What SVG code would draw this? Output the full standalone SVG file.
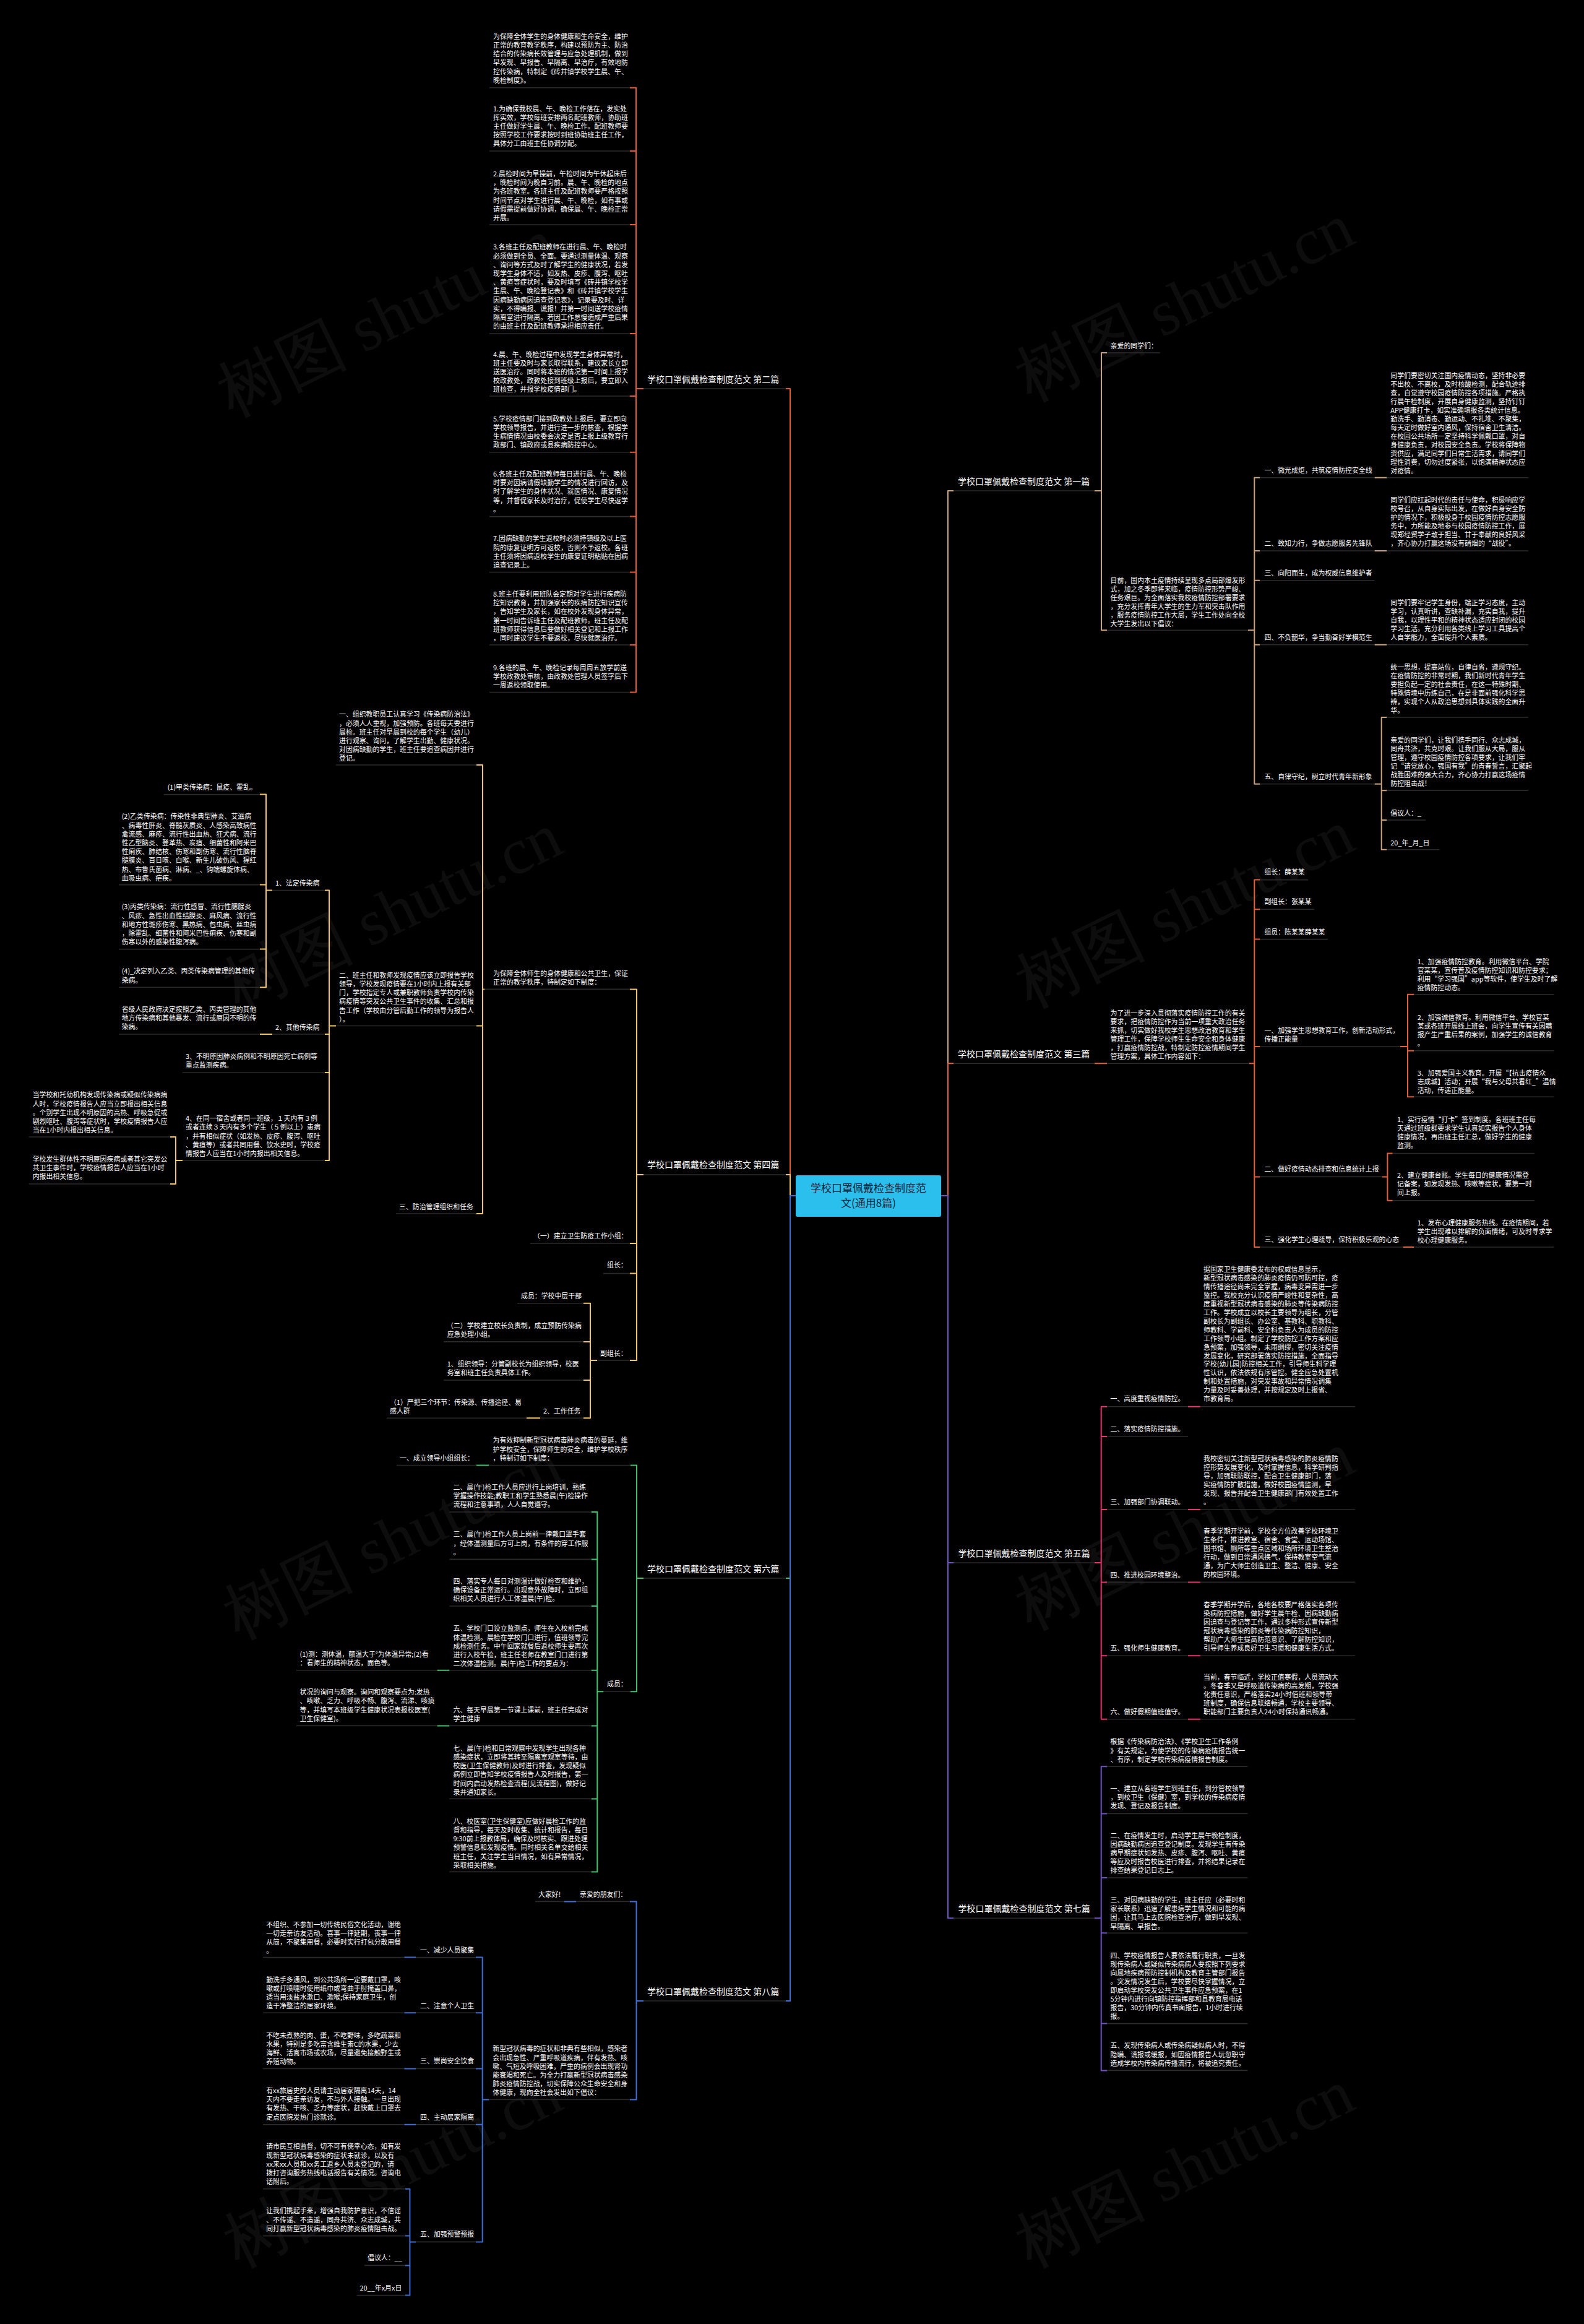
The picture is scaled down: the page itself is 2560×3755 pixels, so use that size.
<svg xmlns="http://www.w3.org/2000/svg" width="2560" height="3755" viewBox="0 0 2560 3755">
<style>
.t{font-family:"Noto Sans CJK SC","Noto Sans",sans-serif;font-size:10.9px;fill:#fff}
.h{font-size:14px}
.u{stroke:#2b2b2b;stroke-width:1.6}
.k{fill:none;stroke-width:2;stroke-linejoin:round}
.k1{stroke:#c9a27c}.k2{stroke:#e4592e}.k3{stroke:#e35f3a}.k4{stroke:#efc46c}
.k5{stroke:#e63472}.k6{stroke:#45c06c}.k7{stroke:#7252c4}.k8{stroke:#3d6fd6}
.wm{font-family:"Liberation Serif",serif;font-size:105px;fill:#fff;opacity:.05}
</style>
<rect width="2560" height="3755" fill="#000"/>
<g id="watermarks">
<text class="wm" text-anchor="middle" transform="translate(640 545) rotate(-26)">树图 shutu.cn</text>
<text class="wm" text-anchor="middle" transform="translate(1930 520) rotate(-26)">树图 shutu.cn</text>
<text class="wm" text-anchor="middle" transform="translate(650 1505) rotate(-26)">树图 shutu.cn</text>
<text class="wm" text-anchor="middle" transform="translate(1930 1500) rotate(-26)">树图 shutu.cn</text>
<text class="wm" text-anchor="middle" transform="translate(650 2520) rotate(-26)">树图 shutu.cn</text>
<text class="wm" text-anchor="middle" transform="translate(1930 2505) rotate(-26)">树图 shutu.cn</text>
<text class="wm" text-anchor="middle" transform="translate(650 3535) rotate(-26)">树图 shutu.cn</text>
<text class="wm" text-anchor="middle" transform="translate(1930 3535) rotate(-26)">树图 shutu.cn</text>
</g>
<g id="connectors">
<path class="k k2" d="M1286 1932H1277V628H1270"/>
<path class="k k4" d="M1286 1932H1277V1898H1270"/>
<path class="k k6" d="M1286 1932H1277V2550H1270"/>
<path class="k k8" d="M1286 1932H1277V3233H1270"/>
<path class="k k1" d="M1521 1932H1532V793H1541"/>
<path class="k k3" d="M1521 1932H1532V1718.3H1541"/>
<path class="k k7" d="M1521 1932H1532V2525H1541"/>
<path class="k k7" d="M1521 1932H1532V3099.3H1541"/>
<path class="k k2" d="M1040 628H1028M1018 141.8H1028V1118.5H1018M1018 244H1028M1018 363H1028M1018 539H1028M1018 640H1028M1018 730.7H1028M1018 834.6H1028M1018 924.5H1028M1018 1042H1028"/>
<path class="k k4" d="M1040 1898H1029M1018 1598.4H1029V2198H1018M1018 2009H1029M1018 2057.6H1029
M783 1598.4H780M770 1236H780V1961H770M770 1657.5H780
M543 1657.5H532M525 1438.5H532V1875H525M525 1671H532M525 1733H532
M440 1438.5H430M420 1283.6H430V1595.2H420M420 1429.6H430M420 1533.6H430
M440 1671H420
M295 1875H284M275 1837H284V1913H275
M965 2198H954M943 2105.8H954V2291.3H943M943 2167.9H954M943 2230H954
M873 2291.3H851"/>
<path class="k k6" d="M1040 2550H1029M1019 2367.5H1029V2733.2H1019
M790 2367.5H770
M975.5 2733.2H965.3M955.5 2443H965.3V3024.4H955.5M955.5 2519.4H965.3M955.5 2595H965.3M955.5 2698.8H965.3M955.5 2788.4H965.3M955.5 2906.4H965.3
M726.4 2698.8H706.4M726.4 2788.4H706.4"/>
<path class="k k8" d="M1040 3233H1028.5M1018 3072.4H1028.5V3392.5H1018
M931 3072.4H911.6
M790 3392.5H779.7M769 3162.6H779.7V3622.4H769M769 3252.3H779.7M769 3342.5H779.7M769 3432.7H779.7
M672 3162.6H653.3M672 3252.3H653.3M672 3342.5H653.3M672 3432.7H653.3
M672 3622.4H662.4M655 3536.7H662.4V3708.6H655M655 3612.6H662.4M655 3660.4H662.4"/>
<path class="k k1" d="M1769 793H1780M1789 570H1780V1018.3H1789
M2017 1018.3H2027.3M2036 771.7H2027.3V1266.7H2036M2036 890H2027.3M2036 937.7H2027.3M2036 1041.7H2027.3
M2221.5 771.7H2241M2221.5 890H2241M2221.5 1041.7H2241
M2221.5 1266.7H2232.7M2241 1159H2232.7V1372.7H2241M2241 1277.3H2232.7M2241 1325H2232.7"/>
<path class="k k3" d="M1769 1718.3H1789
M2019 1718.3H2027.3M2036 1421.6H2027.3V2015H2036M2036 1469.2H2027.3M2036 1517.6H2027.3M2036 1691H2027.3M2036 1901.4H2027.3
M2263 1691H2275M2285 1606.8H2275V1772.2H2285M2285 1697.7H2275
M2233.7 1901.4H2242.4M2250.7 1863.5H2242.4V1939.7H2250.7
M2267.8 2015H2285"/>
<path class="k k5" d="M1769 2525H1779.7M1789 2272.8H1779.7V2777.8H1789M1789 2321H1779.7M1789 2439H1779.7M1789 2556.4H1779.7M1789 2675.3H1779.7
M1920 2272.8H1940M1920 2439H1940M1920 2556.4H1940M1920 2675.3H1940M1920 2777.8H1940"/>
<path class="k k7" d="M1769 3099.3H1779.7M1789 2854.3H1779.7V3345.4H1789M1789 2930.4H1779.7M1789 3034H1779.7M1789 3123.2H1779.7M1789 3269.6H1779.7"/>
</g>
<g id="center">
<rect x="1286" y="1899" width="235" height="67" rx="3" fill="#2bbfed"/>
<text class="t" x="1403.5" y="1926" text-anchor="middle" style="font-size:17px;fill:#10253a">学校口罩佩戴检查制度范</text>
<text class="t" x="1403.5" y="1950" text-anchor="middle" style="font-size:17px;fill:#10253a">文(通用8篇)</text>
</g>
<!-- 第二篇 -->
<g id="b2">
<text class="t h" x="1046" y="618">学校口罩佩戴检查制度范文 第二篇</text>
<line class="u" x1="1040" y1="628" x2="1270" y2="628"/>
</g>
<g id="b2-p0"><text class="t" x="797" y="62.8"><tspan x="797">为保障全体学生的身体健康和生命安全，维护</tspan><tspan x="797" dy="14.2">正常的教育教学秩序，构建以预防为主、防治</tspan><tspan x="797" dy="14.2">结合的传染病长效管理与应急处理机制，做到</tspan><tspan x="797" dy="14.2">早发现、早报告、早隔离、早治疗，有效地防</tspan><tspan x="797" dy="14.2">控传染病，特制定《砖井镇学校学生晨、午、</tspan><tspan x="797" dy="14.2">晚检制度》。</tspan></text><line class="u" x1="791" y1="141.8" x2="1018" y2="141.8"/></g>
<g id="b2-p1"><text class="t" x="797" y="179.5"><tspan x="797">1.为确保我校晨、午、晚检工作落在，发实处</tspan><tspan x="797" dy="14.2">挥实效，学校每班安排两名配班教师，协助班</tspan><tspan x="797" dy="14.2">主任做好学生晨、午、晚检工作。配班教师要</tspan><tspan x="797" dy="14.2">按照学校工作要求按时到班协助班主任工作，</tspan><tspan x="797" dy="14.2">具体分工由班主任协调分配。</tspan></text><line class="u" x1="791" y1="244" x2="1018" y2="244"/></g>
<g id="b2-p2"><text class="t" x="797" y="284.9"><tspan x="797">2.晨检时间为早操前，午检时间为午休起床后</tspan><tspan x="797" dy="14.2">，晚检时间为晚自习前。晨、午、晚检的地点</tspan><tspan x="797" dy="14.2">为各班教室。各班主任及配班教师要严格按照</tspan><tspan x="797" dy="14.2">时间节点对学生进行晨、午、晚检，如有事或</tspan><tspan x="797" dy="14.2">请假需提前做好协调，确保晨、午、晚检正常</tspan><tspan x="797" dy="14.2">开展。</tspan></text><line class="u" x1="791" y1="363" x2="1018" y2="363"/></g>
<g id="b2-p3"><text class="t" x="797" y="403.4"><tspan x="797">3.各班主任及配班教师在进行晨、午、晚检时</tspan><tspan x="797" dy="14.2">必须做到全员、全面。要通过测量体温、观察</tspan><tspan x="797" dy="14.2">、询问等方式及时了解学生的健康状况，若发</tspan><tspan x="797" dy="14.2">现学生身体不适，如发热、皮疹、腹泻、呕吐</tspan><tspan x="797" dy="14.2">、黄疸等症状时，要及时填写《砖井镇学校学</tspan><tspan x="797" dy="14.2">生晨、午、晚检登记表》和《砖井镇学校学生</tspan><tspan x="797" dy="14.2">因病缺勤病因追查登记表》，记录要及时、详</tspan><tspan x="797" dy="14.2">实，不得瞒报、谎报！并第一时间送学校疫情</tspan><tspan x="797" dy="14.2">隔离室进行隔离。若因工作怠慢造成严重后果</tspan><tspan x="797" dy="14.2">的由班主任及配班教师承担相应责任。</tspan></text><line class="u" x1="791" y1="539" x2="1018" y2="539"/></g>
<g id="b2-p4"><text class="t" x="797" y="576.6"><tspan x="797">4.晨、午、晚检过程中发现学生身体异常时，</tspan><tspan x="797" dy="14.2">班主任要及时与家长取得联系，建议家长立即</tspan><tspan x="797" dy="14.2">送医治疗。同时将本班的情况第一时间上报学</tspan><tspan x="797" dy="14.2">校政教处，政教处接到班级上报后，要立即入</tspan><tspan x="797" dy="14.2">班核查，并报学校疫情部门。</tspan></text><line class="u" x1="791" y1="640" x2="1018" y2="640"/></g>
<g id="b2-p5"><text class="t" x="797" y="680.5"><tspan x="797">5.学校疫情部门接到政教处上报后，要立即向</tspan><tspan x="797" dy="14.2">学校领导报告，并进行进一步的核查，根据学</tspan><tspan x="797" dy="14.2">生病情情况由校委会决定是否上报上级教育行</tspan><tspan x="797" dy="14.2">政部门、镇政府或县疾病防控中心。</tspan></text><line class="u" x1="791" y1="730.7" x2="1018" y2="730.7"/></g>
<g id="b2-p6"><text class="t" x="797" y="770"><tspan x="797">6.各班主任及配班教师每日进行晨、午、晚检</tspan><tspan x="797" dy="14.2">时要对因病请假缺勤学生的情况进行回访，及</tspan><tspan x="797" dy="14.2">时了解学生的身体状况、就医情况、康复情况</tspan><tspan x="797" dy="14.2">等，并督促家长及时治疗，促使学生尽快返学</tspan><tspan x="797" dy="14.2">。</tspan></text><line class="u" x1="791" y1="834.6" x2="1018" y2="834.6"/></g>
<g id="b2-p7"><text class="t" x="797" y="874.3"><tspan x="797">7.因病缺勤的学生返校时必须持镇级及以上医</tspan><tspan x="797" dy="14.2">院的康复证明方可返校，否则不予返校。各班</tspan><tspan x="797" dy="14.2">主任须将因病返校学生的康复证明粘贴在因病</tspan><tspan x="797" dy="14.2">追查记录上。</tspan></text><line class="u" x1="791" y1="924.5" x2="1018" y2="924.5"/></g>
<g id="b2-p8"><text class="t" x="797" y="963.9"><tspan x="797">8.班主任要利用班队会定期对学生进行疾病防</tspan><tspan x="797" dy="14.2">控知识教育，并加强家长的疾病防控知识宣传</tspan><tspan x="797" dy="14.2">，告知学生及家长，如在校外发现身体异常，</tspan><tspan x="797" dy="14.2">第一时间告诉班主任及配班教师。班主任及配</tspan><tspan x="797" dy="14.2">班教师获得信息后要做好相关登记和上报工作</tspan><tspan x="797" dy="14.2">，同时建议学生不要返校，尽快就医治疗。</tspan></text><line class="u" x1="791" y1="1042" x2="1018" y2="1042"/></g>
<g id="b2-p9"><text class="t" x="797" y="1083"><tspan x="797">9.各班的晨、午、晚检记录每周周五放学前送</tspan><tspan x="797" dy="14.2">学校政教处审核，由政教处管理人员签字后下</tspan><tspan x="797" dy="14.2">一周返校领取使用。</tspan></text><line class="u" x1="791" y1="1118.5" x2="1018" y2="1118.5"/></g>
<!-- 第四篇 -->
<g id="b4">
<text class="t h" x="1046" y="1887">学校口罩佩戴检查制度范文 第四篇</text>
<line class="u" x1="1040" y1="1898" x2="1270" y2="1898"/>
</g>
<g id="b4-c1"><text class="t" x="797" y="1576.8"><tspan x="797">为保障全体师生的身体健康和公共卫生，保证</tspan><tspan x="797" dy="14.2">正常的教学秩序，特制定如下制度：</tspan></text><line class="u" x1="783" y1="1598.4" x2="1018" y2="1598.4"/></g>
<g id="b4-g1"><text class="t" x="862" y="2001">（一）建立卫生防疫工作小组：</text><line class="u" x1="857" y1="2009" x2="1018" y2="2009"/></g>
<g id="b4-g2"><text class="t" x="981" y="2048">组长：</text><line class="u" x1="975" y1="2057.6" x2="1018" y2="2057.6"/></g>
<g id="b4-g3"><text class="t" x="970" y="2190.7">副组长：</text><line class="u" x1="965" y1="2198" x2="1018" y2="2198"/></g>
<g id="b4-1"><text class="t" x="548" y="1158.3"><tspan x="548">一、组织教职员工认真学习《传染病防治法》</tspan><tspan x="548" dy="14.2">，必须人人重视，加强预防。各班每天要进行</tspan><tspan x="548" dy="14.2">晨检。班主任对早晨到校的每个学生（幼儿）</tspan><tspan x="548" dy="14.2">进行观察、询问，了解学生出勤、健康状况。</tspan><tspan x="548" dy="14.2">对因病缺勤的学生，班主任要追查病因并进行</tspan><tspan x="548" dy="14.2">登记。</tspan></text><line class="u" x1="543" y1="1236" x2="770" y2="1236"/></g>
<g id="b4-2"><text class="t" x="548" y="1579.8"><tspan x="548">二、班主任和教师发现疫情应该立即报告学校</tspan><tspan x="548" dy="14.2">领导，学校发现疫情要在1小时内上报有关部</tspan><tspan x="548" dy="14.2">门，学校指定专人或兼职教师负责学校内传染</tspan><tspan x="548" dy="14.2">病疫情等突发公共卫生事件的收集、汇总和报</tspan><tspan x="548" dy="14.2">告工作（学校由分管后勤工作的领导为报告人</tspan><tspan x="548" dy="14.2">）。</tspan></text><line class="u" x1="543" y1="1657.5" x2="770" y2="1657.5"/></g>
<g id="b4-3"><text class="t" x="645" y="1953.6">三、防治管理组织和任务</text><line class="u" x1="640" y1="1961" x2="770" y2="1961"/></g>
<g id="b4-2-1"><text class="t" x="445" y="1431.3">1、法定传染病</text><line class="u" x1="440" y1="1438.5" x2="525" y2="1438.5"/></g>
<g id="b4-2-2"><text class="t" x="445" y="1663.5">2、其他传染病</text><line class="u" x1="440" y1="1671" x2="525" y2="1671"/></g>
<g id="b4-2-3"><text class="t" x="300" y="1710.8"><tspan x="300">3、不明原因肺炎病例和不明原因死亡病例等</tspan><tspan x="300" dy="14.2">重点监测疾病。</tspan></text><line class="u" x1="295" y1="1733" x2="525" y2="1733"/></g>
<g id="b4-2-4"><text class="t" x="300" y="1811.2"><tspan x="300">4、在同一宿舍或者同一班级，１天内有３例</tspan><tspan x="300" dy="14.2">或者连续３天内有多个学生（５例以上）患病</tspan><tspan x="300" dy="14.2">，并有相似症状（如发热、皮疹、腹泻、呕吐</tspan><tspan x="300" dy="14.2">、黄疸等）或者共同用餐、饮水史时，学校疫</tspan><tspan x="300" dy="14.2">情报告人应当在1小时内报出相关信息。</tspan></text><line class="u" x1="295" y1="1875" x2="525" y2="1875"/></g>
<g id="b4-a1"><text class="t" x="270.7" y="1276.4">(1)甲类传染病：鼠疫、霍乱。</text><line class="u" x1="265" y1="1283.6" x2="420" y2="1283.6"/></g>
<g id="b4-a2"><text class="t" x="196.7" y="1323.3"><tspan x="196.7">(2)乙类传染病：传染性非典型肺炎、艾滋病</tspan><tspan x="196.7" dy="14.2">、病毒性肝炎、脊髓灰质炎、人感染高致病性</tspan><tspan x="196.7" dy="14.2">禽流感、麻疹、流行性出血热、狂犬病、流行</tspan><tspan x="196.7" dy="14.2">性乙型脑炎、登革热、炭疽、细菌性和阿米巴</tspan><tspan x="196.7" dy="14.2">性痢疾、肺结核、伤寒和副伤寒、流行性脑脊</tspan><tspan x="196.7" dy="14.2">髓膜炎、百日咳、白喉、新生儿破伤风、猩红</tspan><tspan x="196.7" dy="14.2">热、布鲁氏菌病、淋病、_、钩端螺旋体病、</tspan><tspan x="196.7" dy="14.2">血吸虫病、疟疾。</tspan></text><line class="u" x1="192" y1="1429.6" x2="420" y2="1429.6"/></g>
<g id="b4-a3"><text class="t" x="196.7" y="1469.3"><tspan x="196.7">(3)丙类传染病：流行性感冒、流行性腮腺炎</tspan><tspan x="196.7" dy="14.2">、风疹、急性出血性结膜炎、麻风病、流行性</tspan><tspan x="196.7" dy="14.2">和地方性斑疹伤寒、黑热病、包虫病、丝虫病</tspan><tspan x="196.7" dy="14.2">，除霍乱、细菌性和阿米巴性痢疾、伤寒和副</tspan><tspan x="196.7" dy="14.2">伤寒以外的感染性腹泻病。</tspan></text><line class="u" x1="192" y1="1533.6" x2="420" y2="1533.6"/></g>
<g id="b4-a4"><text class="t" x="196.7" y="1573.3"><tspan x="196.7">(4)_决定列入乙类、丙类传染病管理的其他传</tspan><tspan x="196.7" dy="14.2">染病。</tspan></text><line class="u" x1="192" y1="1595.2" x2="420" y2="1595.2"/></g>
<g id="b4-b1"><text class="t" x="196.7" y="1634.9"><tspan x="196.7">省级人民政府决定按照乙类、丙类管理的其他</tspan><tspan x="196.7" dy="14.2">地方传染病和其他暴发、流行或原因不明的传</tspan><tspan x="196.7" dy="14.2">染病。</tspan></text><line class="u" x1="192" y1="1671" x2="420" y2="1671"/></g>
<g id="b4-d1"><text class="t" x="52.7" y="1773.3"><tspan x="52.7">当学校和托幼机构发现传染病或疑似传染病病</tspan><tspan x="52.7" dy="14.2">人时，学校疫情报告人应当立即报出相关信息</tspan><tspan x="52.7" dy="14.2">。个别学生出现不明原因的高热、呼吸急促或</tspan><tspan x="52.7" dy="14.2">剧烈呕吐、腹泻等症状时，学校疫情报告人应</tspan><tspan x="52.7" dy="14.2">当在1小时内报出相关信息。</tspan></text><line class="u" x1="47" y1="1837" x2="275" y2="1837"/></g>
<g id="b4-d2"><text class="t" x="52.7" y="1876.9"><tspan x="52.7">学校发生群体性不明原因疾病或者其它突发公</tspan><tspan x="52.7" dy="14.2">共卫生事件时，学校疫情报告人应当在1小时</tspan><tspan x="52.7" dy="14.2">内报出相关信息。</tspan></text><line class="u" x1="47" y1="1913" x2="275" y2="1913"/></g>
<g id="b4-e1"><text class="t" x="842" y="2097.7">成员：学校中层干部</text><line class="u" x1="836" y1="2105.8" x2="943" y2="2105.8"/></g>
<g id="b4-e2"><text class="t" x="722" y="2145.5"><tspan x="722">（二）学校建立校长负责制，成立预防传染病</tspan><tspan x="722.7" dy="14.2">应急处理小组。</tspan></text><line class="u" x1="717" y1="2167.9" x2="943" y2="2167.9"/></g>
<g id="b4-e3"><text class="t" x="722.7" y="2207.6"><tspan x="722.7">1、组织领导：分管副校长为组织领导，校医</tspan><tspan x="722.7" dy="14.2">务室和班主任负责具体工作。</tspan></text><line class="u" x1="717" y1="2230" x2="943" y2="2230"/></g>
<g id="b4-e4"><text class="t" x="878" y="2283.6">2、工作任务</text><line class="u" x1="873" y1="2291.3" x2="943" y2="2291.3"/></g>
<g id="b4-f1"><text class="t" x="630" y="2269.7"><tspan x="630">（1）严把三个环节：传染源、传播途径、易</tspan><tspan x="630" dy="14.2">感人群</tspan></text><line class="u" x1="625" y1="2291.3" x2="851" y2="2291.3"/></g>
<!-- 第六篇 -->
<g id="b6">
<text class="t h" x="1046" y="2540">学校口罩佩戴检查制度范文 第六篇</text>
<line class="u" x1="1040" y1="2550" x2="1270" y2="2550"/>
</g>
<g id="b6-q0"><text class="t" x="796.5" y="2331.4"><tspan x="796.5">为有效抑制新型冠状病毒肺炎病毒的蔓延，维</tspan><tspan x="796.5" dy="14.2">护学校安全，保障师生的安全，维护学校秩序</tspan><tspan x="796.5" dy="14.2">，特制订如下制度：</tspan></text><line class="u" x1="790" y1="2367.5" x2="1019" y2="2367.5"/></g>
<g id="b6-q0a"><text class="t" x="646" y="2359.7">一、成立领导小组组长：</text><line class="u" x1="641" y1="2367.5" x2="770" y2="2367.5"/></g>
<g id="b6-q1"><text class="t" x="981" y="2725.4">成员：</text><line class="u" x1="975.5" y1="2733.2" x2="1019" y2="2733.2"/></g>
<g id="b6-2"><text class="t" x="732.5" y="2406.9"><tspan x="732.5">二、晨(午)检工作人员应进行上岗培训，熟练</tspan><tspan x="732.5" dy="14.2">掌握操作技能;教职工和学生熟悉晨(午)检操作</tspan><tspan x="732.5" dy="14.2">流程和注意事项，人人自觉遵守。</tspan></text><line class="u" x1="726.4" y1="2443" x2="955.5" y2="2443"/></g>
<g id="b6-3"><text class="t" x="732.5" y="2483.3"><tspan x="732.5">三、晨(午)检工作人员上岗前一律戴口罩手套</tspan><tspan x="732.5" dy="14.2">，经体温测量后方可上岗，有条件的穿工作服</tspan><tspan x="732.5" dy="14.2">。</tspan></text><line class="u" x1="726.4" y1="2519.4" x2="955.5" y2="2519.4"/></g>
<g id="b6-4"><text class="t" x="732.5" y="2558.8"><tspan x="732.5">四、落实专人每日对测温计做好检查和维护，</tspan><tspan x="732.5" dy="14.2">确保设备正常运行。出现意外故障时，立即组</tspan><tspan x="732.5" dy="14.2">织相关人员进行人工体温晨(午)检。</tspan></text><line class="u" x1="726.4" y1="2595" x2="955.5" y2="2595"/></g>
<g id="b6-5"><text class="t" x="732.5" y="2635.3"><tspan x="732.5">五、学校门口设立监测点，师生在入校前完成</tspan><tspan x="732.5" dy="14.2">体温检测。晨检在学校门口进行，值班领导完</tspan><tspan x="732.5" dy="14.2">成检测任务。中午回家就餐后返校师生要再次</tspan><tspan x="732.5" dy="14.2">进行入校午检，班主任老师在教室门口进行第</tspan><tspan x="732.5" dy="14.2">二次体温检测。晨(午)检工作的要点为：</tspan></text><line class="u" x1="726.4" y1="2698.8" x2="955.5" y2="2698.8"/></g>
<g id="b6-5a"><text class="t" x="484.5" y="2676.8"><tspan x="484.5">(1)测：测体温，额温大于°为体温异常;(2)看</tspan><tspan x="484.5" dy="14.2">：看师生的精神状态，面色等。</tspan></text><line class="u" x1="479" y1="2698.8" x2="706.4" y2="2698.8"/></g>
<g id="b6-6"><text class="t" x="732.5" y="2766.5"><tspan x="732.5">六、每天早晨第一节课上课前，班主任完成对</tspan><tspan x="732.5" dy="14.2">学生健康</tspan></text><line class="u" x1="726.4" y1="2788.4" x2="955.5" y2="2788.4"/></g>
<g id="b6-6a"><text class="t" x="484.5" y="2738.2"><tspan x="484.5">状况的询问与观察。询问和观察要点为:发热</tspan><tspan x="484.5" dy="14.2">、咳嗽、乏力、呼吸不畅、腹泻、流涕、咳痰</tspan><tspan x="484.5" dy="14.2">等，并填写本班级学生健康状况表报校医室(</tspan><tspan x="484.5" dy="14.2">卫生保健室)。</tspan></text><line class="u" x1="479" y1="2788.4" x2="706.4" y2="2788.4"/></g>
<g id="b6-7"><text class="t" x="732.5" y="2828.8"><tspan x="732.5">七、晨(午)检和日常观察中发现学生出现各种</tspan><tspan x="732.5" dy="14.2">感染症状，立即将其转至隔离室观室等待，由</tspan><tspan x="732.5" dy="14.2">校医(卫生保健教师)及时进行排查，发现疑似</tspan><tspan x="732.5" dy="14.2">病例立即告知学校疫情报告人及时报告，第一</tspan><tspan x="732.5" dy="14.2">时间内启动发热检查流程(见流程图)，做好记</tspan><tspan x="732.5" dy="14.2">录并通知家长。</tspan></text><line class="u" x1="726.4" y1="2906.4" x2="955.5" y2="2906.4"/></g>
<g id="b6-8"><text class="t" x="732.5" y="2946.7"><tspan x="732.5">八、校医室(卫生保健室)应做好晨检工作的监</tspan><tspan x="732.5" dy="14.2">督和指导，每天及时收集、统计和报告，每日</tspan><tspan x="732.5" dy="14.2">9:30前上报教体局，确保及时核实、跟进处理</tspan><tspan x="732.5" dy="14.2">预警信息和发现疫情。同时相关名单交给相关</tspan><tspan x="732.5" dy="14.2">班主任，关注学生当日情况，如有异常情况，</tspan><tspan x="732.5" dy="14.2">采取相关措施。</tspan></text><line class="u" x1="726.4" y1="3024.4" x2="955.5" y2="3024.4"/></g>
<!-- 第八篇 -->
<g id="b8">
<text class="t h" x="1046" y="3223">学校口罩佩戴检查制度范文 第八篇</text>
<line class="u" x1="1040" y1="3233" x2="1270" y2="3233"/>
</g>
<g id="b8-r0"><text class="t" x="937" y="3065">亲爱的朋友们：</text><line class="u" x1="931" y1="3072.4" x2="1018" y2="3072.4"/></g>
<g id="b8-r0a"><text class="t" x="870" y="3065">大家好!</text><line class="u" x1="865" y1="3072.4" x2="911.6" y2="3072.4"/></g>
<g id="b8-r1"><text class="t" x="796.3" y="3314.4"><tspan x="796.3">新型冠状病毒的症状和非典有些相似，感染者</tspan><tspan x="796.3" dy="14.1">会出现急性、严重呼吸道疾病，伴有发热、咳</tspan><tspan x="796.3" dy="14.1">嗽、气短及呼吸困难，严重的病例会出现肾功</tspan><tspan x="796.3" dy="14.1">能衰竭和死亡。为全力打赢新型冠状病毒感染</tspan><tspan x="796.3" dy="14.1">肺炎疫情防控战，切实保障公众生命安全和身</tspan><tspan x="796.3" dy="14.1">体健康，现向全社会发出如下倡议：</tspan></text><line class="u" x1="790" y1="3392.5" x2="1018" y2="3392.5"/></g>
<g id="b8-1"><text class="t" x="679" y="3154.5">一、减少人员聚集</text><line class="u" x1="672" y1="3162.6" x2="769" y2="3162.6"/></g>
<g id="b8-2"><text class="t" x="679" y="3244.7">二、注意个人卫生</text><line class="u" x1="672" y1="3252.3" x2="769" y2="3252.3"/></g>
<g id="b8-3"><text class="t" x="679" y="3334.4">三、崇尚安全饮食</text><line class="u" x1="672" y1="3342.5" x2="769" y2="3342.5"/></g>
<g id="b8-4"><text class="t" x="679" y="3424.6">四、主动居家隔离</text><line class="u" x1="672" y1="3432.7" x2="769" y2="3432.7"/></g>
<g id="b8-5"><text class="t" x="679" y="3614.4">五、加强预警预报</text><line class="u" x1="672" y1="3622.4" x2="769" y2="3622.4"/></g>
<g id="b8-1a"><text class="t" x="430.2" y="3113.5"><tspan x="430.2">不组织、不参加一切传统民俗文化活动，谢绝</tspan><tspan x="430.2" dy="14.1">一切走亲访友活动。喜事一律延期，丧事一律</tspan><tspan x="430.2" dy="14.1">从简，不聚集用餐，必要时实行打包分散用餐</tspan><tspan x="430.2" dy="14.1">。</tspan></text><line class="u" x1="425" y1="3162.6" x2="653.3" y2="3162.6"/></g>
<g id="b8-2a"><text class="t" x="430.2" y="3202.8"><tspan x="430.2">勤洗手多通风，到公共场所一定要戴口罩，咳</tspan><tspan x="430.2" dy="14.1">嗽或打喷嚏时使用纸巾或弯曲手肘掩盖口鼻，</tspan><tspan x="430.2" dy="14.1">适当用淡盐水漱口、漱喉;保持家庭卫生，创</tspan><tspan x="430.2" dy="14.1">造干净整洁的居家环境。</tspan></text><line class="u" x1="425" y1="3252.3" x2="653.3" y2="3252.3"/></g>
<g id="b8-3a"><text class="t" x="430.2" y="3292.9"><tspan x="430.2">不吃未煮熟的肉、蛋，不吃野味，多吃蔬菜和</tspan><tspan x="430.2" dy="14.1">水果，特别是多吃富含维生素C的水果，少去</tspan><tspan x="430.2" dy="14.1">海鲜、活禽市场或农场，尽量避免接触野生或</tspan><tspan x="430.2" dy="14.1">养殖动物。</tspan></text><line class="u" x1="425" y1="3342.5" x2="653.3" y2="3342.5"/></g>
<g id="b8-4a"><text class="t" x="430.2" y="3382.2"><tspan x="430.2">有xx旅居史的人员请主动居家隔离14天，14</tspan><tspan x="430.2" dy="14.1">天内不要走亲访友，不与外人接触。一旦出现</tspan><tspan x="430.2" dy="14.1">有发热、干咳、乏力等症状，赶快戴上口罩去</tspan><tspan x="430.2" dy="14.1">定点医院发热门诊就诊。</tspan></text><line class="u" x1="425" y1="3432.7" x2="653.3" y2="3432.7"/></g>
<g id="b8-5a"><text class="t" x="430.2" y="3472.4"><tspan x="430.2">请市民互相监督，切不可有侥幸心态，如有发</tspan><tspan x="430.2" dy="14.1">现新型冠状病毒感染的症状未就诊，以及有</tspan><tspan x="430.2" dy="14.1">xx来xx人员和xx务工返乡人员未登记的，请</tspan><tspan x="430.2" dy="14.1">拨打咨询服务热线电话报告有关情况。咨询电</tspan><tspan x="430.2" dy="14.1">话附后。</tspan></text><line class="u" x1="425" y1="3536.7" x2="655" y2="3536.7"/></g>
<g id="b8-5b"><text class="t" x="430.2" y="3576.4"><tspan x="430.2">让我们携起手来，增强自我防护意识，不信谣</tspan><tspan x="430.2" dy="14.1">、不传谣、不造谣，同舟共济、众志成城，共</tspan><tspan x="430.2" dy="14.1">同打赢新型冠状病毒感染的肺炎疫情阻击战。</tspan></text><line class="u" x1="425" y1="3612.6" x2="655" y2="3612.6"/></g>
<g id="b8-5c"><text class="t" x="594" y="3652.3">倡议人：__</text><line class="u" x1="589" y1="3660.4" x2="655" y2="3660.4"/></g>
<g id="b8-5d"><text class="t" x="581.5" y="3700.5">20__年x月x日</text><line class="u" x1="576.6" y1="3708.6" x2="655" y2="3708.6"/></g>
<!-- 第一篇 -->
<g id="b1">
<text class="t h" x="1548" y="783">学校口罩佩戴检查制度范文 第一篇</text>
<line class="u" x1="1541" y1="793" x2="1769" y2="793"/>
</g>
<g id="b1-a"><text class="t" x="1794.6" y="563.3">亲爱的同学们：</text><line class="u" x1="1789" y1="570" x2="1875" y2="570"/></g>
<g id="b1-b"><text class="t" x="1794.6" y="941.7"><tspan x="1794.6">目前，国内本土疫情持续呈现多点局部爆发形</tspan><tspan x="1794.6" dy="14">式，加之冬季即将来临，疫情防控形势严峻、</tspan><tspan x="1794.6" dy="14">任务艰巨。为全面落实我校疫情防控部署要求</tspan><tspan x="1794.6" dy="14">，充分发挥青年大学生的生力军和突击队作用</tspan><tspan x="1794.6" dy="14">，服务疫情防控工作大局，学生工作处向全校</tspan><tspan x="1794.6" dy="14">大学生发出以下倡议：</tspan></text><line class="u" x1="1789" y1="1018.3" x2="2017" y2="1018.3"/></g>
<g id="b1-1"><text class="t" x="2043.4" y="764">一、微光成炬，共筑疫情防控安全线</text><line class="u" x1="2036" y1="771.7" x2="2221.5" y2="771.7"/></g>
<g id="b1-2"><text class="t" x="2043.4" y="882.3">二、致知力行，争做志愿服务先锋队</text><line class="u" x1="2036" y1="890" x2="2221.5" y2="890"/></g>
<g id="b1-3"><text class="t" x="2043.4" y="930">三、向阳而生，成为权威信息维护者</text><line class="u" x1="2036" y1="937.7" x2="2221.5" y2="937.7"/></g>
<g id="b1-4"><text class="t" x="2043.4" y="1034">四、不负韶华，争当勤奋好学模范生</text><line class="u" x1="2036" y1="1041.7" x2="2221.5" y2="1041.7"/></g>
<g id="b1-5"><text class="t" x="2043.4" y="1259">五、自律守纪，树立时代青年新形象</text><line class="u" x1="2036" y1="1266.7" x2="2221.5" y2="1266.7"/></g>
<g id="b1-1a"><text class="t" x="2247.3" y="610.7"><tspan x="2247.3">同学们要密切关注国内疫情动态，坚持非必要</tspan><tspan x="2247.3" dy="14">不出校、不离校，及时核酸检测，配合轨迹排</tspan><tspan x="2247.3" dy="14">查，自觉遵守校园疫情防控各项措施。严格执</tspan><tspan x="2247.3" dy="14">行晨午检制度，开展自身健康监测，坚持钉钉</tspan><tspan x="2247.3" dy="14">APP健康打卡，如实准确填报各类统计信息。</tspan><tspan x="2247.3" dy="14">勤洗手、勤消毒、勤运动、不扎堆、不聚集，</tspan><tspan x="2247.3" dy="14">每天定时做好室内通风，保持宿舍卫生清洁。</tspan><tspan x="2247.3" dy="14">在校园公共场所一定坚持科学佩戴口罩，对自</tspan><tspan x="2247.3" dy="14">身健康负责，对校园安全负责。学校将保障物</tspan><tspan x="2247.3" dy="14">资供应，满足同学们日常生活需求，请同学们</tspan><tspan x="2247.3" dy="14">理性消费，切勿过度紧张，以饱满精神状态应</tspan><tspan x="2247.3" dy="14">对疫情。</tspan></text><line class="u" x1="2241" y1="771.7" x2="2470" y2="771.7"/></g>
<g id="b1-2a"><text class="t" x="2247.3" y="812.3"><tspan x="2247.3">同学们应扛起时代的责任与使命，积极响应学</tspan><tspan x="2247.3" dy="14">校号召，从自身实际出发，在做好自身安全防</tspan><tspan x="2247.3" dy="14">护的情况下，积极投身于校园疫情防控志愿服</tspan><tspan x="2247.3" dy="14">务中，力所能及地参与校园疫情防控工作，展</tspan><tspan x="2247.3" dy="14">现郑经贸学子敢于担当、甘于奉献的良好风采</tspan><tspan x="2247.3" dy="14">，齐心协力打赢这场没有硝烟的“战役”。</tspan></text><line class="u" x1="2241" y1="890" x2="2470" y2="890"/></g>
<g id="b1-4a"><text class="t" x="2247.3" y="978.3"><tspan x="2247.3">同学们要牢记学生身份，端正学习态度，主动</tspan><tspan x="2247.3" dy="14">学习，认真听讲，查缺补漏，充实自我，提升</tspan><tspan x="2247.3" dy="14">自我，以理性平和的精神状态适应封闭的校园</tspan><tspan x="2247.3" dy="14">学习生活。充分利用各类线上学习工具提高个</tspan><tspan x="2247.3" dy="14">人自学能力，全面提升个人素质。</tspan></text><line class="u" x1="2241" y1="1041.7" x2="2470" y2="1041.7"/></g>
<g id="b1-5a"><text class="t" x="2247.3" y="1082.3"><tspan x="2247.3">统一思想，提高站位，自律自省，遵规守纪。</tspan><tspan x="2247.3" dy="14">在疫情防控的非常时期，我们新时代青年学生</tspan><tspan x="2247.3" dy="14">要担负起一定的社会责任，在这一特殊时期、</tspan><tspan x="2247.3" dy="14">特殊情境中历练自己，在是非面前强化科学思</tspan><tspan x="2247.3" dy="14">辨，实现个人从政治思想到具体实践的全面升</tspan><tspan x="2247.3" dy="14">华。</tspan></text><line class="u" x1="2241" y1="1159" x2="2470" y2="1159"/></g>
<g id="b1-5b"><text class="t" x="2247.3" y="1199.7"><tspan x="2247.3">亲爱的同学们，让我们携手同行、众志成城，</tspan><tspan x="2247.3" dy="14">同舟共济，共克时艰。让我们服从大局，服从</tspan><tspan x="2247.3" dy="14">管理，遵守校园疫情防控各项要求，让我们牢</tspan><tspan x="2247.3" dy="14">记“请党放心，强国有我”的青春誓言，汇聚起</tspan><tspan x="2247.3" dy="14">战胜困难的强大合力，齐心协力打赢这场疫情</tspan><tspan x="2247.3" dy="14">防控阻击战！</tspan></text><line class="u" x1="2241" y1="1277.3" x2="2470" y2="1277.3"/></g>
<g id="b1-5c"><text class="t" x="2247.3" y="1318.3">倡议人：_</text><line class="u" x1="2241" y1="1325" x2="2304" y2="1325"/></g>
<g id="b1-5d"><text class="t" x="2247.3" y="1365.7">20_年_月_日</text><line class="u" x1="2241" y1="1372.7" x2="2326" y2="1372.7"/></g>
<!-- 第三篇 -->
<g id="b3">
<text class="t h" x="1548" y="1708">学校口罩佩戴检查制度范文 第三篇</text>
<line class="u" x1="1541" y1="1718.3" x2="1769" y2="1718.3"/>
</g>
<g id="b3-a"><text class="t" x="1794.6" y="1640.7"><tspan x="1794.6">为了进一步深入贯彻落实疫情防控工作的有关</tspan><tspan x="1794.6" dy="14">要求，把疫情防控作为当前一项重大政治任务</tspan><tspan x="1794.6" dy="14">来抓，切实做好我校学生思想政治教育和学生</tspan><tspan x="1794.6" dy="14">管理工作，保障学校师生生命安全和身体健康</tspan><tspan x="1794.6" dy="14">，打赢疫情防控战，特制定防控疫情期间学生</tspan><tspan x="1794.6" dy="14">管理方案，具体工作内容如下：</tspan></text><line class="u" x1="1789" y1="1718.3" x2="2019" y2="1718.3"/></g>
<g id="b3-g1"><text class="t" x="2043.4" y="1413.4">组长：薛某某</text><line class="u" x1="2036" y1="1421.6" x2="2114" y2="1421.6"/></g>
<g id="b3-g2"><text class="t" x="2043.4" y="1461.4">副组长：张某某</text><line class="u" x1="2036" y1="1469.2" x2="2124" y2="1469.2"/></g>
<g id="b3-g3"><text class="t" x="2043.4" y="1509.8">组员：陈某某薛某某</text><line class="u" x1="2036" y1="1517.6" x2="2146" y2="1517.6"/></g>
<g id="b3-1"><text class="t" x="2043.4" y="1668.9"><tspan x="2043.4">一、加强学生思想教育工作，创新活动形式，</tspan><tspan x="2043.4" dy="14">传播正能量</tspan></text><line class="u" x1="2036" y1="1691" x2="2263" y2="1691"/></g>
<g id="b3-1a"><text class="t" x="2290.7" y="1558.2"><tspan x="2290.7">1、加强疫情防控教育。利用微信平台、学院</tspan><tspan x="2290.7" dy="14">官某某，宣传普及疫情防控知识和防控要求；</tspan><tspan x="2290.7" dy="14">利用“学习强国”app等软件，使学生及时了解</tspan><tspan x="2290.7" dy="14">疫情防控动态。</tspan></text><line class="u" x1="2285" y1="1606.8" x2="2511.7" y2="1606.8"/></g>
<g id="b3-1b"><text class="t" x="2290.7" y="1647.8"><tspan x="2290.7">2、加强诚信教育。利用微信平台、学校官某</tspan><tspan x="2290.7" dy="14">某或各班开展线上班会，向学生宣传有关因瞒</tspan><tspan x="2290.7" dy="14">报产生严重后果的案例，加强学生的诚信教育</tspan><tspan x="2290.7" dy="14">。</tspan></text><line class="u" x1="2285" y1="1697.7" x2="2511.7" y2="1697.7"/></g>
<g id="b3-1c"><text class="t" x="2290.7" y="1737.5"><tspan x="2290.7">3、加强爱国主义教育。开展“【抗击疫情众</tspan><tspan x="2290.7" dy="14">志成城】活动；开展“我与父母共看红_”温情</tspan><tspan x="2290.7" dy="14">活动，传递正能量。</tspan></text><line class="u" x1="2285" y1="1772.2" x2="2511.7" y2="1772.2"/></g>
<g id="b3-2"><text class="t" x="2043.4" y="1893.2">二、做好疫情动态排查和信息统计上报</text><line class="u" x1="2036" y1="1901.4" x2="2233.7" y2="1901.4"/></g>
<g id="b3-2a"><text class="t" x="2258" y="1813.2"><tspan x="2258">1、实行疫情“打卡”签到制度。各班班主任每</tspan><tspan x="2258" dy="14">天通过班级群要求学生认真如实报告个人身体</tspan><tspan x="2258" dy="14">健康情况，再由班主任汇总，做好学生的健康</tspan><tspan x="2258" dy="14">监测。</tspan></text><line class="u" x1="2250.7" y1="1863.5" x2="2480" y2="1863.5"/></g>
<g id="b3-2b"><text class="t" x="2258" y="1903.3"><tspan x="2258">2、建立健康台账。学生每日的健康情况需登</tspan><tspan x="2258" dy="14">记备案，如发现发热、咳嗽等症状，要第一时</tspan><tspan x="2258" dy="14">间上报。</tspan></text><line class="u" x1="2250.7" y1="1939.7" x2="2480" y2="1939.7"/></g>
<g id="b3-3"><text class="t" x="2043.4" y="2006.8">三、强化学生心理疏导，保持积极乐观的心态</text><line class="u" x1="2036" y1="2015" x2="2267.8" y2="2015"/></g>
<g id="b3-3a"><text class="t" x="2290.7" y="1979.5"><tspan x="2290.7">1、发布心理健康服务热线。在疫情期间，若</tspan><tspan x="2290.7" dy="14">学生出现难以排解的负面情绪，可及时寻求学</tspan><tspan x="2290.7" dy="14">校心理健康服务。</tspan></text><line class="u" x1="2285" y1="2015" x2="2511.7" y2="2015"/></g>
<!-- 第五篇 -->
<g id="b5">
<text class="t h" x="1548.5" y="2515">学校口罩佩戴检查制度范文 第五篇</text>
<line class="u" x1="1541" y1="2525" x2="1769" y2="2525"/>
</g>
<g id="b5-1"><text class="t" x="1794.5" y="2264.3">一、高度重视疫情防控。</text><line class="u" x1="1789" y1="2272.8" x2="1920" y2="2272.8"/></g>
<g id="b5-2"><text class="t" x="1794.5" y="2312.6">二、落实疫情防控措施。</text><line class="u" x1="1789" y1="2321" x2="1920" y2="2321"/></g>
<g id="b5-3"><text class="t" x="1794.5" y="2431">三、加强部门协调联动。</text><line class="u" x1="1789" y1="2439" x2="1920" y2="2439"/></g>
<g id="b5-4"><text class="t" x="1794.5" y="2549">四、推进校园环境整治。</text><line class="u" x1="1789" y1="2556.4" x2="1920" y2="2556.4"/></g>
<g id="b5-5"><text class="t" x="1794.5" y="2666.8">五、强化师生健康教育。</text><line class="u" x1="1789" y1="2675.3" x2="1920" y2="2675.3"/></g>
<g id="b5-6"><text class="t" x="1794.5" y="2770.3">六、做好假期值班值守。</text><line class="u" x1="1789" y1="2777.8" x2="1920" y2="2777.8"/></g>
<g id="b5-1a"><text class="t" x="1945" y="2054.9"><tspan x="1945">据国家卫生健康委发布的权威信息显示，</tspan><tspan x="1945" dy="13.96">新型冠状病毒感染的肺炎疫情仍可防可控，疫</tspan><tspan x="1945" dy="13.96">情传播途径尚未完全掌握，病毒变异需进一步</tspan><tspan x="1945" dy="13.96">监控。我校充分认识疫情严峻性和复杂性，高</tspan><tspan x="1945" dy="13.96">度重视新型冠状病毒感染的肺炎等传染病防控</tspan><tspan x="1945" dy="13.96">工作。学校成立以校长主要领导为组长，分管</tspan><tspan x="1945" dy="13.96">副校长为副组长、办公室、基教科、职教科、</tspan><tspan x="1945" dy="13.96">师教科、学前科、安全科负责人为成员的防控</tspan><tspan x="1945" dy="13.96">工作领导小组。制定了学校防控工作方案和应</tspan><tspan x="1945" dy="13.96">急预案，加强领导，未雨绸缪，密切关注疫情</tspan><tspan x="1945" dy="13.96">发展变化，研究部署落实防控措施，全面指导</tspan><tspan x="1945" dy="13.96">学校(幼儿园)防控相关工作，引导师生科学理</tspan><tspan x="1945" dy="13.96">性认识，依法依规有序管控。健全应急处置机</tspan><tspan x="1945" dy="13.96">制和处置措施，对突发事故和异常情况调集</tspan><tspan x="1945" dy="13.96">力量及时妥善处理，并按规定及时上报省、</tspan><tspan x="1945" dy="13.96">市教育局。</tspan></text><line class="u" x1="1940" y1="2272.8" x2="2190" y2="2272.8"/></g>
<g id="b5-3a"><text class="t" x="1945" y="2360.9"><tspan x="1945">我校密切关注新型冠状病毒感染的肺炎疫情防</tspan><tspan x="1945" dy="14">控形势发展变化，及时掌握信息，科学研判指</tspan><tspan x="1945" dy="14">导，加强联防联控，配合卫生健康部门，落</tspan><tspan x="1945" dy="14">实疫情防扩散措施，做好校园疫情监测，早</tspan><tspan x="1945" dy="14">发现、报告并配合卫生健康部门有效处置工作</tspan><tspan x="1945" dy="14">。</tspan></text><line class="u" x1="1940" y1="2439" x2="2190" y2="2439"/></g>
<g id="b5-4a"><text class="t" x="1945" y="2478.3"><tspan x="1945">春季学期开学前，学校全方位改善学校环境卫</tspan><tspan x="1945" dy="14">生条件，推进教室、宿舍、食堂、运动场馆、</tspan><tspan x="1945" dy="14">图书馆、厕所等重点区域和场所环境卫生整治</tspan><tspan x="1945" dy="14">行动，做到日常通风换气，保持教室空气流</tspan><tspan x="1945" dy="14">通，为广大师生创造卫生、整洁、健康、安全</tspan><tspan x="1945" dy="14">的校园环境。</tspan></text><line class="u" x1="1940" y1="2556.4" x2="2190" y2="2556.4"/></g>
<g id="b5-5a"><text class="t" x="1945" y="2596.7"><tspan x="1945">春季学期开学后，各地各校要严格落实各项传</tspan><tspan x="1945" dy="14">染病防控措施，做好学生晨午检、因病缺勤病</tspan><tspan x="1945" dy="14">因追查与登记等工作，通过多种形式宣传新型</tspan><tspan x="1945" dy="14">冠状病毒感染的肺炎等传染病防控知识，</tspan><tspan x="1945" dy="14">帮助广大师生提高防范意识、了解防控知识，</tspan><tspan x="1945" dy="14">引导师生养成良好卫生习惯和健康生活方式。</tspan></text><line class="u" x1="1940" y1="2675.3" x2="2190" y2="2675.3"/></g>
<g id="b5-6a"><text class="t" x="1945" y="2714"><tspan x="1945">当前，春节临近，学校正值寒假，人员流动大</tspan><tspan x="1945" dy="14">。冬春季又是呼吸道传染病的高发期，学校强</tspan><tspan x="1945" dy="14">化责任意识，严格落实24小时值班和领导带</tspan><tspan x="1945" dy="14">班制度，确保信息联络畅通，学校主要领导、</tspan><tspan x="1945" dy="14">职能部门主要负责人24小时保持通讯畅通。</tspan></text><line class="u" x1="1940" y1="2777.8" x2="2190" y2="2777.8"/></g>
<!-- 第七篇 -->
<g id="b7">
<text class="t h" x="1548.5" y="3089">学校口罩佩戴检查制度范文 第七篇</text>
<line class="u" x1="1541" y1="3099.3" x2="1769" y2="3099.3"/>
</g>
<g id="b7-0"><text class="t" x="1794.5" y="2818.3"><tspan x="1794.5">根据《传染病防治法》、《学校卫生工作条例</tspan><tspan x="1794.5" dy="14.2">》有关规定，为使学校的传染病疫情报告统一</tspan><tspan x="1794.5" dy="14.2">、有序，制定学校传染病疫情报告制度。</tspan></text><line class="u" x1="1789" y1="2854.3" x2="2016.5" y2="2854.3"/></g>
<g id="b7-1"><text class="t" x="1794.5" y="2894"><tspan x="1794.5">一、建立从各班学生到班主任，到分管校领导</tspan><tspan x="1794.5" dy="14.2">，到校卫生（保健）室，到学校的传染病疫情</tspan><tspan x="1794.5" dy="14.2">发现、登记及报告制度。</tspan></text><line class="u" x1="1789" y1="2930.4" x2="2016.5" y2="2930.4"/></g>
<g id="b7-2"><text class="t" x="1794.5" y="2970"><tspan x="1794.5">二、在疫情发生时，启动学生晨午晚检制度，</tspan><tspan x="1794.5" dy="14.1">因病缺勤病因追查登记制度。发现学生有传染</tspan><tspan x="1794.5" dy="14.1">病早期症状如发热、皮疹、腹泻、呕吐、黄疸</tspan><tspan x="1794.5" dy="14.1">等应及时报告校医进行排查，并将结果记录在</tspan><tspan x="1794.5" dy="14.1">排查结果登记日志上。</tspan></text><line class="u" x1="1789" y1="3034" x2="2016.5" y2="3034"/></g>
<g id="b7-3"><text class="t" x="1794.5" y="3073.6"><tspan x="1794.5">三、对因病缺勤的学生，班主任应（必要时和</tspan><tspan x="1794.5" dy="14.3">家长联系）迅速了解患病学生情况和可能的病</tspan><tspan x="1794.5" dy="14.3">因，让其马上去医院检查治疗，做到早发现、</tspan><tspan x="1794.5" dy="14.3">早隔离、早报告。</tspan></text><line class="u" x1="1789" y1="3123.2" x2="2016.5" y2="3123.2"/></g>
<g id="b7-4"><text class="t" x="1794.5" y="3163.6"><tspan x="1794.5">四、学校疫情报告人要依法履行职责，一旦发</tspan><tspan x="1794.5" dy="14.05">现传染病人或疑似传染病病人要按照下列要求</tspan><tspan x="1794.5" dy="14.05">向属地疾病预防控制机构及教育主管部门报告</tspan><tspan x="1794.5" dy="14.05">。突发情况发生后，学校要尽快掌握情况，立</tspan><tspan x="1794.5" dy="14.05">即启动学校突发公共卫生事件应急预案，在1</tspan><tspan x="1794.5" dy="14.05">5分钟内进行向镇防控指挥部和县教育局电话</tspan><tspan x="1794.5" dy="14.05">报告，30分钟内传真书面报告，1小时进行续</tspan><tspan x="1794.5" dy="14.05">报。</tspan></text><line class="u" x1="1789" y1="3269.6" x2="2016.5" y2="3269.6"/></g>
<g id="b7-5"><text class="t" x="1794.5" y="3309.4"><tspan x="1794.5">五、发现传染病人或传染病疑似病人时，不得</tspan><tspan x="1794.5" dy="14.2">隐瞒、谎报或缓报，如因疫情报告人玩忽职守</tspan><tspan x="1794.5" dy="14.2">造成学校内传染病传播流行，将被追究责任。</tspan></text><line class="u" x1="1789" y1="3345.4" x2="2016.5" y2="3345.4"/></g>
</svg>
